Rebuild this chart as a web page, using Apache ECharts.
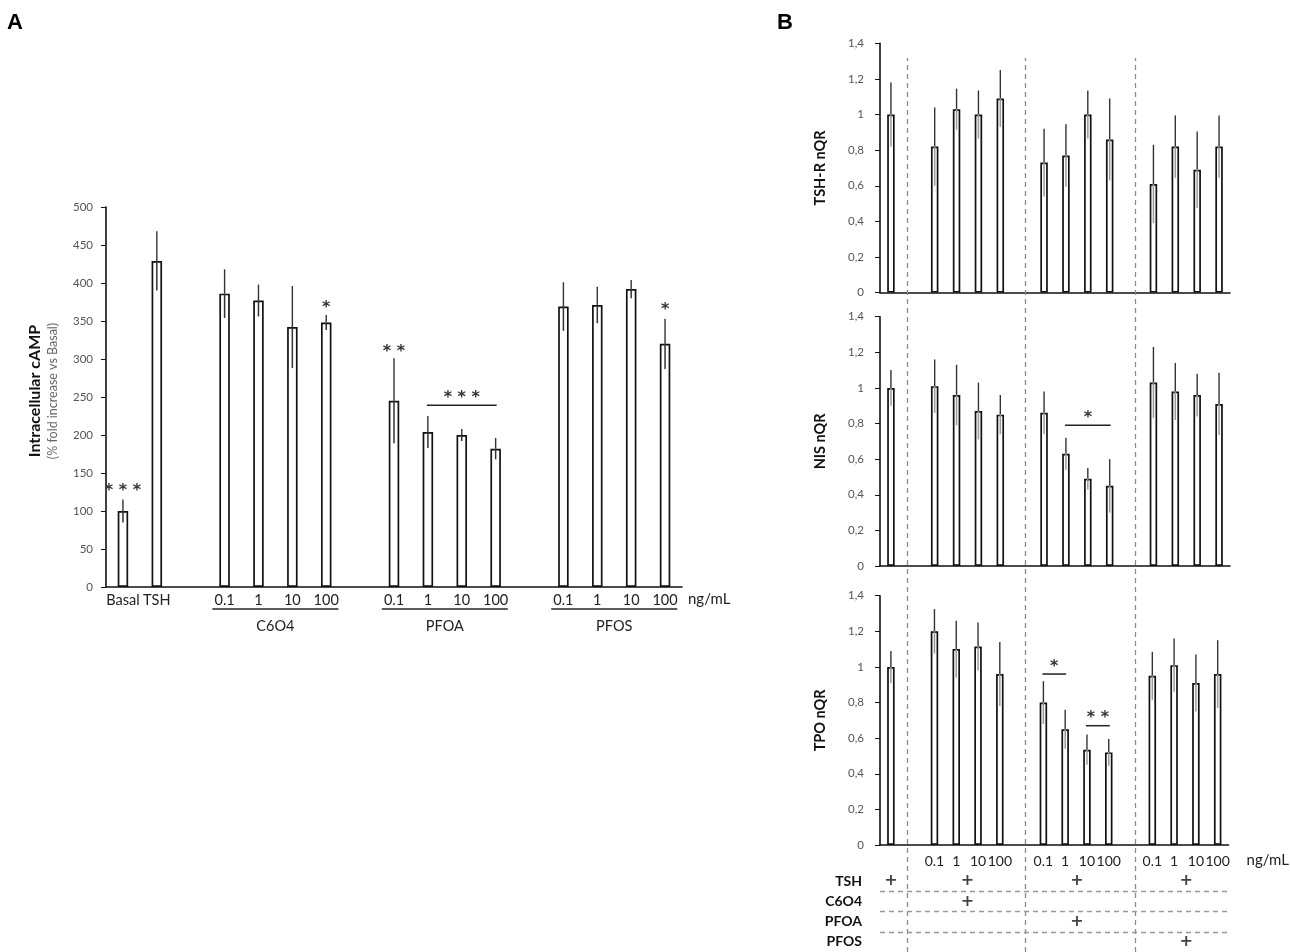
<!DOCTYPE html>
<html>
<head>
<meta charset="utf-8">
<title>cAMP and thyroid gene expression</title>
<script src="https://cdn.jsdelivr.net/npm/echarts@6/dist/echarts.min.js"></script>
<style>
  html, body { margin: 0; padding: 0; background: #fff; }
  #chart { width: 1290px; height: 952px; }
</style>
</head>
<body>
<div id="chart"></div>
<script>
// ---- panel A: intracellular cAMP (% fold increase vs Basal) ----
var catsA = ['Basal', 'TSH', '', '0.1', '1', '10', '100', '', '0.1', '1', '10', '100', '', '0.1', '1', '10', '100'];
var campVal = [100, 429, null, 386, 377, 342, 348, null, 245, 204, 200, 182, null, 369, 371, 392, 320];
var campErr = [15, 39, null, 32, 21, 54, 10, null, 56, 21, 8, 14, null, 32, 24, 12, 33];
var groupsA = [['C6O4', 3, 6], ['PFOA', 8, 11], ['PFOS', 13, 16]];
// [from, to, y, stars]  (from == to : star over one bar)
var sigA = [[0, 0, 117, '* * *'], [6, 6, 357, '*'], [8, 8, 300, '* *'], [16, 16, 355, '*'], [9, 11, 239, '* * *']];
var ticksA = { min: 0, max: 500, interval: 50 };

// ---- panel B: nQR of TSH-R, NIS, TPO ----
var catsB = ['', '', '0.1', '1', '10', '100', '', '0.1', '1', '10', '100', '', '0.1', '1', '10', '100'];
var tshrVal = [1.00, null, 0.82, 1.03, 1.00, 1.09, null, 0.73, 0.77, 1.00, 0.86, null, 0.61, 0.82, 0.69, 0.82];
var tshrErr = [0.18, null, 0.22, 0.115, 0.135, 0.16, null, 0.19, 0.175, 0.135, 0.23, null, 0.22, 0.175, 0.215, 0.175];
var nisVal = [1.00, null, 1.01, 0.96, 0.87, 0.85, null, 0.86, 0.63, 0.49, 0.45, null, 1.03, 0.98, 0.96, 0.91];
var nisErr = [0.10, null, 0.15, 0.17, 0.16, 0.11, null, 0.12, 0.09, 0.06, 0.15, null, 0.20, 0.16, 0.12, 0.175];
var tpoVal = [1.00, null, 1.20, 1.10, 1.115, 0.96, null, 0.80, 0.65, 0.535, 0.52, null, 0.95, 1.01, 0.91, 0.96];
var tpoErr = [0.09, null, 0.125, 0.16, 0.135, 0.18, null, 0.12, 0.11, 0.085, 0.075, null, 0.135, 0.15, 0.16, 0.19];
var nisSig = [[8, 10, 0.79, '*']];
var tpoSig = [[7, 8, 0.96, '*'], [9, 10, 0.67, '* *']];
var namesB = ['TSH-R nQR', 'NIS nQR', 'TPO nQR'];
var ticksB = { min: 0, max: 1.4, interval: 0.2 };

// treatment table under panel B
var tshIndex = 0;
var groupsB = [['C6O4', 2, 5], ['PFOA', 7, 10], ['PFOS', 12, 15]];
var rowsB = ['TSH', 'C6O4', 'PFOA', 'PFOS'];
var sepB = [1.25, 6.66, 11.66];   // dashed separators, in category units

var FONT = 'Lato';

function starText(x, y, txt) {
  return {
    type: 'text', x: x, y: y,
    style: { text: txt, fill: '#333', font: 'bold 16px "DejaVu Sans"', align: 'center', verticalAlign: 'middle' }
  };
}

function errRender(lowColor) {
  return function (params, api) {
    var x = api.value(0), v = api.value(1), e = api.value(2);
    var hi = api.coord([x, v + e]), mid = api.coord([x, v]), lo = api.coord([x, v - e]);
    return {
      type: 'group',
      children: [
        { type: 'line', shape: { x1: hi[0], y1: hi[1], x2: mid[0], y2: mid[1] }, style: { stroke: '#333', lineWidth: 1.4 } },
        { type: 'line', shape: { x1: mid[0], y1: mid[1], x2: lo[0], y2: lo[1] }, style: { stroke: lowColor, lineWidth: 1.5 } }
      ]
    };
  };
}

function sigRender(list) {
  return function (params, api) {
    var s = list[params.dataIndex];
    var p1 = api.coord([s[0], s[2]]), p2 = api.coord([s[1], s[2]]);
    var kids = [];
    if (s[0] !== s[1]) {
      kids.push({ type: 'line', shape: { x1: p1[0] - 1, y1: p1[1], x2: p2[0] + 1, y2: p2[1] }, style: { stroke: '#222', lineWidth: 1.5 } });
    }
    kids.push(starText((p1[0] + p2[0]) / 2, p1[1] - 7.5, s[3]));
    return { type: 'group', children: kids };
  };
}

function errData(vals, errs) {
  var out = [];
  vals.forEach(function (v, i) { if (v != null) out.push([i, v, errs[i]]); });
  return out;
}

function commaFmt(v) {
  return String(Math.round(v * 10) / 10).replace('.', ',');
}

var axisLineStyle = { show: true, lineStyle: { color: '#111', width: 1.6 } };

var grids = [], xAxes = [], yAxes = [], series = [];

// grid 0 : panel A
grids.push({ left: 106, top: 207, width: 576, height: 380 });
xAxes.push({
  type: 'category', gridIndex: 0, data: catsA,
  axisLine: axisLineStyle, axisTick: { show: false },
  axisLabel: { interval: 0, margin: 6, fontSize: 14.5, color: '#222', fontFamily: FONT },
  name: 'ng/mL', nameLocation: 'end', nameGap: 6,
  nameTextStyle: { fontSize: 15, color: '#222', fontFamily: FONT, verticalAlign: 'top', padding: [5, 0, 0, 0] }
});
yAxes.push({
  type: 'value', gridIndex: 0, min: ticksA.min, max: ticksA.max, interval: ticksA.interval,
  axisLine: axisLineStyle, axisTick: { show: true, length: 5, lineStyle: { color: '#111' } },
  splitLine: { show: false },
  axisLabel: { fontSize: 11.5, color: '#555', margin: 13, fontFamily: FONT },
  name: '{t|Intracellular cAMP}\n{s|(% fold increase vs Basal)}',
  nameLocation: 'middle', nameRotate: 90, nameGap: 46,
  nameTextStyle: {
    padding: [0, 0, 0, 12],
    rich: {
      t: { fontSize: 16, fontWeight: 'bold', color: '#111', fontFamily: FONT, lineHeight: 21 },
      s: { fontSize: 12.5, color: '#666', fontFamily: FONT, lineHeight: 15 }
    }
  }
});
series.push({
  type: 'bar', xAxisIndex: 0, yAxisIndex: 0, data: campVal, barWidth: 10.5,
  itemStyle: { color: '#fff', borderColor: '#111', borderWidth: 1.7 }
});
series.push({
  type: 'custom', xAxisIndex: 0, yAxisIndex: 0, z: 3, data: errData(campVal, campErr),
  encode: { x: 0, y: 1 }, renderItem: errRender('#333')
});
series.push({
  type: 'custom', xAxisIndex: 0, yAxisIndex: 0, z: 3, data: sigA.map(function (s) { return [s[0], s[1], s[2]]; }),
  encode: { x: [0, 1], y: 2 }, renderItem: sigRender(sigA)
});
series.push({
  type: 'custom', xAxisIndex: 0, yAxisIndex: 0, clip: false,
  data: groupsA.map(function (g) { return [g[1], g[2]]; }),
  encode: { x: [0, 1] },
  renderItem: function (params, api) {
    var g = groupsA[params.dataIndex];
    var a = api.coord([g[1], 0]), b = api.coord([g[2], 0]);
    var half = api.size([1, 0])[0] * 0.36;
    return {
      type: 'group',
      children: [
        { type: 'line', shape: { x1: a[0] - half, y1: a[1] + 22, x2: b[0] + half, y2: a[1] + 22 }, style: { stroke: '#222', lineWidth: 1.4 } },
        { type: 'text', x: (a[0] + b[0]) / 2, y: a[1] + 39, style: { text: g[0], font: '14.5px ' + FONT, fill: '#222', align: 'center', verticalAlign: 'middle' } }
      ]
    };
  }
});

// grids 1..3 : panel B
var valsB = [tshrVal, nisVal, tpoVal];
var errsB = [tshrErr, nisErr, tpoErr];
var sigsB = [[], nisSig, tpoSig];
var topsB = [43.3, 316.7, 595.7];
for (var k = 0; k < 3; k++) {
  var gi = k + 1;
  var last = k === 2;
  grids.push({ left: 880, top: topsB[k], width: 350, height: 249.3 });
  xAxes.push({
    type: 'category', gridIndex: gi, data: catsB,
    axisLine: axisLineStyle, axisTick: { show: false },
    axisLabel: { show: last, interval: 0, margin: 9, fontSize: 14, color: '#222', fontFamily: FONT },
    name: last ? 'ng/mL' : '', nameLocation: 'end', nameGap: 18,
    nameTextStyle: { fontSize: 15, color: '#222', fontFamily: FONT, verticalAlign: 'top', padding: [8, 0, 0, 0] }
  });
  yAxes.push({
    type: 'value', gridIndex: gi, min: ticksB.min, max: ticksB.max, interval: ticksB.interval,
    axisLine: axisLineStyle, axisTick: { show: true, length: 5, lineStyle: { color: '#111' } },
    splitLine: { show: false },
    axisLabel: { fontSize: 11.5, color: '#555', margin: 16, fontFamily: FONT, formatter: commaFmt },
    name: namesB[k], nameLocation: 'middle', nameRotate: 90, nameGap: 52,
    nameTextStyle: { fontSize: 14.5, fontWeight: 'bold', color: '#111', fontFamily: FONT }
  });
  series.push({
    type: 'bar', xAxisIndex: gi, yAxisIndex: gi, data: valsB[k], barWidth: 7.5,
    itemStyle: { color: '#fff', borderColor: '#111', borderWidth: 1.7 }
  });
  series.push({
    type: 'custom', xAxisIndex: gi, yAxisIndex: gi, z: 3, data: errData(valsB[k], errsB[k]),
    encode: { x: 0, y: 1 }, renderItem: errRender('#9a9a9a')
  });
  if (sigsB[k].length) {
    series.push({
      type: 'custom', xAxisIndex: gi, yAxisIndex: gi, z: 3,
      data: sigsB[k].map(function (s) { return [s[0], s[1], s[2]]; }),
      encode: { x: [0, 1], y: 2 }, renderItem: sigRender(sigsB[k])
    });
  }
}

// grid 4 : overlay for the vertical dashed separators of panel B
grids.push({ left: 880, top: 58, width: 350, bottom: 0 });
xAxes.push({ type: 'value', gridIndex: 4, min: 0, max: catsB.length, show: false });
yAxes.push({ type: 'value', gridIndex: 4, min: 0, max: 1, show: false });
series.push({
  type: 'scatter', xAxisIndex: 4, yAxisIndex: 4, data: [[0, 0]], symbolSize: 0, silent: true,
  markLine: {
    silent: true, symbol: ['none', 'none'], label: { show: false },
    lineStyle: { color: '#8a8a8a', type: [5, 4], width: 1.3 },
    data: sepB.map(function (x) { return { xAxis: x }; })
  }
});

// grid 5 : treatment table
grids.push({ left: 880, top: 871, width: 350, height: 84 });
xAxes.push({ type: 'value', gridIndex: 5, min: 0, max: catsB.length, show: false });
yAxes.push({
  type: 'category', gridIndex: 5, data: rowsB, inverse: true,
  axisLine: { show: false }, axisTick: { show: false },
  axisLabel: { margin: 18, fontSize: 14, fontWeight: 'bold', color: '#111', fontFamily: FONT }
});
yAxes.push({ type: 'value', gridIndex: 5, min: 0, max: rowsB.length, inverse: true, show: false });

var plusData = [];
function groupCenter(g) { return (g[1] + g[2]) / 2 + 0.5; }
plusData.push([tshIndex + 0.5, 'TSH']);
groupsB.forEach(function (g) { plusData.push([groupCenter(g), 'TSH']); });
groupsB.forEach(function (g) { plusData.push([groupCenter(g), g[0]]); });

series.push({
  type: 'scatter', xAxisIndex: 5, yAxisIndex: 5, data: plusData, symbolSize: 1,
  itemStyle: { color: 'rgba(0,0,0,0)' },
  label: { show: true, position: 'inside', formatter: '+', fontSize: 16, fontWeight: 'bold', color: '#111', fontFamily: 'DejaVu Sans' }
});
series.push({
  type: 'scatter', xAxisIndex: 5, yAxisIndex: 6, data: [[0, 0]], symbolSize: 0, silent: true,
  markLine: {
    silent: true, symbol: ['none', 'none'], label: { show: false },
    lineStyle: { color: '#9a9a9a', type: [5, 4], width: 1.3 },
    data: [1, 2, 3].map(function (y) { return { yAxis: y }; })
  }
});

var chart = echarts.init(document.getElementById('chart'));
chart.setOption({
  backgroundColor: '#fff',
  animation: false,
  title: [
    { text: 'A', left: 2, top: 7, textStyle: { fontSize: 22, fontWeight: 'bold', color: '#000', fontFamily: 'Liberation Sans' } },
    { text: 'B', left: 772, top: 7, textStyle: { fontSize: 22, fontWeight: 'bold', color: '#000', fontFamily: 'Liberation Sans' } }
  ],
  grid: grids,
  xAxis: xAxes,
  yAxis: yAxes,
  series: series
});
</script>
</body>
</html>
